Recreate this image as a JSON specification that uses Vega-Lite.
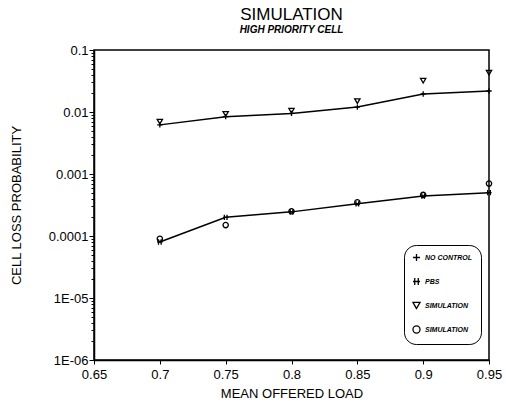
{
  "$schema": "https://vega.github.io/schema/vega-lite/v6.json",
  "autosize": {"type": "none"},
  "width": 395,
  "height": 310,
  "padding": {"left": 94, "top": 50, "right": 17, "bottom": 42},
  "background": "white",
  "config": {
    "font": "Liberation Sans",
    "view": {"stroke": "black", "strokeWidth": 1.5},
    "axis": {"grid": false, "domainColor": "black", "domainWidth": 1.5, "tickColor": "black", "labelColor": "black", "titleColor": "black", "labelFontSize": 13, "titleFontSize": 13, "titleFontWeight": "normal"},
    "title": {"fontSize": 17, "fontWeight": "normal", "subtitleFontSize": 10, "subtitleFontStyle": "italic", "subtitleFontWeight": "bold", "subtitlePadding": 1, "offset": 8, "color": "black", "subtitleColor": "black"}
  },
  "title": {"text": "SIMULATION", "subtitle": "HIGH PRIORITY CELL", "anchor": "middle"},
  "data": {"values": [
    {"load": 0.7, "prob": 0.0062, "series": "NO CONTROL", "kind": "model"},
    {"load": 0.75, "prob": 0.0084, "series": "NO CONTROL", "kind": "model"},
    {"load": 0.8, "prob": 0.0095, "series": "NO CONTROL", "kind": "model"},
    {"load": 0.85, "prob": 0.012, "series": "NO CONTROL", "kind": "model"},
    {"load": 0.9, "prob": 0.0195, "series": "NO CONTROL", "kind": "model"},
    {"load": 0.95, "prob": 0.0218, "series": "NO CONTROL", "kind": "model"},
    {"load": 0.7, "prob": 0.00008, "series": "PBS", "kind": "model"},
    {"load": 0.75, "prob": 0.0002, "series": "PBS", "kind": "model"},
    {"load": 0.8, "prob": 0.000245, "series": "PBS", "kind": "model"},
    {"load": 0.85, "prob": 0.00033, "series": "PBS", "kind": "model"},
    {"load": 0.9, "prob": 0.00044, "series": "PBS", "kind": "model"},
    {"load": 0.95, "prob": 0.0005, "series": "PBS", "kind": "model"},
    {"load": 0.7, "prob": 0.007, "series": "SIM-A", "kind": "sim"},
    {"load": 0.75, "prob": 0.0093, "series": "SIM-A", "kind": "sim"},
    {"load": 0.8, "prob": 0.0105, "series": "SIM-A", "kind": "sim"},
    {"load": 0.85, "prob": 0.015, "series": "SIM-A", "kind": "sim"},
    {"load": 0.9, "prob": 0.032, "series": "SIM-A", "kind": "sim"},
    {"load": 0.95, "prob": 0.043, "series": "SIM-A", "kind": "sim"},
    {"load": 0.7, "prob": 0.00009, "series": "SIM-B", "kind": "sim"},
    {"load": 0.75, "prob": 0.00015, "series": "SIM-B", "kind": "sim"},
    {"load": 0.8, "prob": 0.00025, "series": "SIM-B", "kind": "sim"},
    {"load": 0.85, "prob": 0.00035, "series": "SIM-B", "kind": "sim"},
    {"load": 0.9, "prob": 0.00046, "series": "SIM-B", "kind": "sim"},
    {"load": 0.95, "prob": 0.0007, "series": "SIM-B", "kind": "sim"}
  ]},
  "encoding": {
    "x": {"field": "load", "type": "quantitative", "scale": {"domain": [0.65, 0.95], "nice": false, "zero": false},
      "axis": {"title": "MEAN OFFERED LOAD", "values": [0.65, 0.7, 0.75, 0.8, 0.85, 0.9, 0.95], "format": "~g", "tickSize": 4, "labelPadding": 4, "titlePadding": 6, "labelFlush": false}},
    "y": {"field": "prob", "type": "quantitative", "scale": {"type": "log", "domain": [0.000001, 0.1], "nice": false},
      "axis": {"title": "CELL LOSS PROBABILITY",
        "values": [0.000001,0.000002,0.000003,0.000004,0.000005,0.000006,0.000007,0.000008,0.000009,0.00001,0.00002,0.00003,0.00004,0.00005,0.00006,0.00007,0.00008,0.00009,0.0001,0.0002,0.0003,0.0004,0.0005,0.0006,0.0007,0.0008,0.0009,0.001,0.002,0.003,0.004,0.005,0.006,0.007,0.008,0.009,0.01,0.02,0.03,0.04,0.05,0.06,0.07,0.08,0.09,0.1],
        "labelExpr": "abs(log(datum.value)/LN10 - round(log(datum.value)/LN10)) > 0.01 ? '' : (datum.value < 0.000005 ? '1E-06' : (datum.value < 0.00005 ? '1E-05' : format(datum.value, '~g')))",
        "tickSize": {"condition": {"test": "abs(log(datum.value)/LN10 - round(log(datum.value)/LN10)) < 0.01", "value": 5}, "value": 3},
        "labelPadding": 1, "labelBound": false, "labelOverlap": false,
        "titleX": -78, "titleY": 155, "titleAlign": "center", "titleBaseline": "middle", "titleAngle": -90}}
  },
  "layer": [
    {
      "transform": [{"filter": "datum.kind == 'model'"}],
      "mark": {"type": "line", "color": "black", "strokeWidth": 1.5},
      "encoding": {"detail": {"field": "series"}}
    },
    {
      "mark": {"type": "point", "filled": false, "color": "black", "strokeWidth": 1.3, "size": 28, "opacity": 1},
      "encoding": {
        "shape": {"field": "series", "type": "nominal",
          "scale": {"domain": ["NO CONTROL", "PBS", "SIM-A", "SIM-B"], "range": ["M-1,0L1,0M0,-1L0,1", "M-1,0L1,0M-0.5,-1L-0.5,1M0.5,-1L0.5,1", "triangle-down", "circle"]},
          "legend": {"title": null, "orient": "none", "legendX": 310, "legendY": 195, "strokeColor": "black", "cornerRadius": 12, "padding": 8, "labelFontSize": 7, "labelFontStyle": "italic", "labelFontWeight": "bold", "labelExpr": "(datum.label == 'SIM-A' || datum.label == 'SIM-B') ? 'SIMULATION' : datum.label", "symbolStrokeColor": "black", "symbolStrokeWidth": 1.3, "symbolSize": 50, "rowPadding": 11, "labelLimit": 70}}
      }
    }
  ]
}
